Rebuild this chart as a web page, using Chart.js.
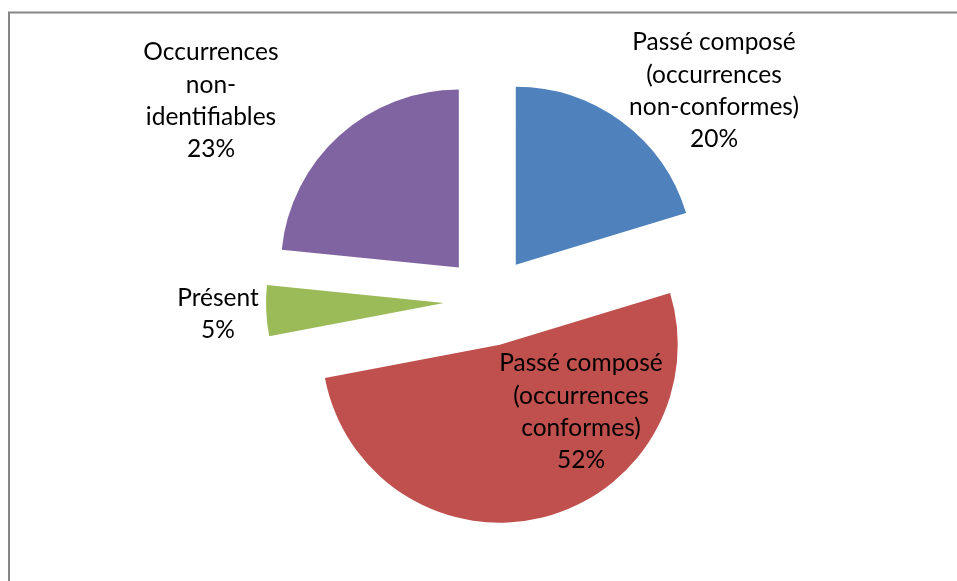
<!DOCTYPE html>
<html>
<head>
<meta charset="utf-8">
<script src="https://cdn.jsdelivr.net/npm/chart.js@4.4.0/dist/chart.umd.min.js"></script>
<style>
  html, body { margin: 0; padding: 0; background: #ffffff; }
  #wrap { width: 957px; height: 581px; position: relative; }
</style>
</head>
<body>
<div id="wrap"><canvas id="c" width="957" height="581"></canvas></div>
<script>
// ---- data ----
const categories = [
  ['Passé composé', '(occurrences', 'non-conformes)'],
  ['Passé composé', '(occurrences', 'conformes)'],
  ['Présent'],
  ['Occurrences', 'non-', 'identifiables']
];
const values = [20.3, 51.7, 4.6, 23.4];
const colors = ['#4F81BD', '#C0504D', '#9BBB59', '#8064A2'];

// ---- style ----
const EXPLODE = 45; // px each slice is pulled out along its mid-angle
const labelOffsets = [
  { dx: 225, dy: -210 },
  { dx: 92, dy: 111 },
  { dx: -271, dy: 13 },
  { dx: -278, dy: -200 }
];
const FONT = '24.5px Lato, "Open Sans", sans-serif';
const LINE_H = 32.3;

const framePlugin = {
  id: 'frame',
  beforeDraw(chart) {
    const ctx = chart.ctx;
    ctx.save();
    ctx.fillStyle = '#ffffff';
    ctx.fillRect(0, 0, chart.width, chart.height);
    ctx.strokeStyle = '#868686';
    ctx.lineWidth = 2;
    ctx.beginPath();
    ctx.moveTo(9, chart.height + 2);
    ctx.lineTo(9, 12.5);
    ctx.lineTo(chart.width + 2, 12.5);
    ctx.stroke();
    ctx.restore();
  }
};

// explode slices uniformly (Excel style) by translating each arc before the library draws it
const explodePlugin = {
  id: 'explode',
  beforeDatasetDraw(chart, args) {
    args.meta.data.forEach(arc => {
      if (arc._exploded) return;
      const orig = arc.draw;
      arc.draw = function (ctx, area) {
        const half = (this.startAngle + this.endAngle) / 2;
        ctx.save();
        ctx.translate(Math.cos(half) * EXPLODE, Math.sin(half) * EXPLODE);
        orig.call(this, ctx, area);
        ctx.restore();
      };
      arc._exploded = true;
    });
  }
};

const labelPlugin = {
  id: 'pieLabels',
  afterDatasetsDraw(chart) {
    const ctx = chart.ctx;
    const meta = chart.getDatasetMeta(0);
    const total = values.reduce((a, b) => a + b, 0);
    ctx.save();
    ctx.font = FONT;
    ctx.fillStyle = '#000000';
    ctx.textAlign = 'center';
    ctx.textBaseline = 'middle';
    meta.data.forEach((arc, i) => {
      const lines = categories[i].concat([Math.round(values[i] / total * 100) + '%']);
      const cx = arc.x + labelOffsets[i].dx;
      const cy = arc.y + labelOffsets[i].dy;
      const y0 = cy - (lines.length - 1) * LINE_H / 2;
      lines.forEach((t, k) => ctx.fillText(t, cx, y0 + k * LINE_H));
    });
    ctx.restore();
  }
};

new Chart(document.getElementById('c'), {
  type: 'pie',
  data: {
    labels: categories.map(l => l.join(' ')),
    datasets: [{
      data: values,
      backgroundColor: colors,
      borderWidth: 0,
      offset: 0,
      hoverOffset: 0
    }]
  },
  options: {
    responsive: false,
    animation: false,
    events: [],
    radius: 178,
    layout: { padding: { left: 21, right: 0, top: 21, bottom: 0 } },
    plugins: {
      legend: { display: false },
      tooltip: { enabled: false }
    }
  },
  plugins: [framePlugin, explodePlugin, labelPlugin]
});
</script>
</body>
</html>
